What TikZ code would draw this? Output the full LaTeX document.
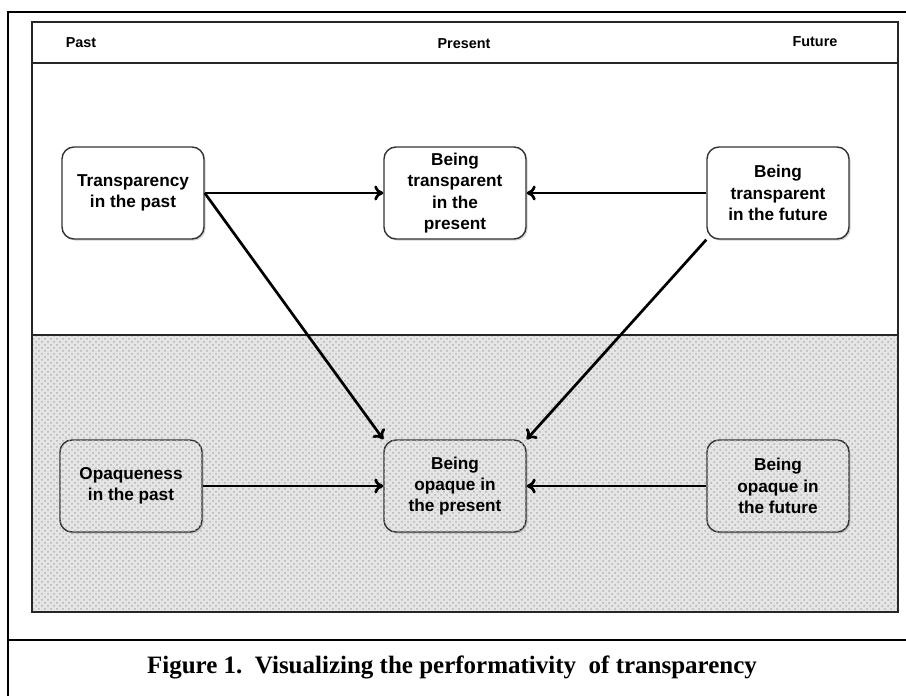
\documentclass[tikz,border=0pt]{standalone}
\usepackage{fontspec}
\setmainfont{Liberation Serif}
\setsansfont{Liberation Sans}
\usetikzlibrary{arrows.meta,positioning,shadows,patterns}

\begin{document}
\begin{tikzpicture}[x=0.5pt, y=-0.5pt,
    box/.style={draw=black!80, line width=0.7pt, rounded corners=6pt,
      minimum width=71pt, minimum height=46pt, inner sep=1pt, align=center,
      font=\sffamily\bfseries\fontsize{8.6}{10.6}\selectfont, fill=white,
      drop shadow={shadow xshift=0.8pt, shadow yshift=-0.8pt, opacity=0.35}},
    shaded/.style={fill=gray!20, postaction={pattern=crosshatch dots, pattern color=gray!60}},
    opaquebox/.style={box, shaded},
    era/.style={font=\sffamily\bfseries\fontsize{7.2}{9}\selectfont},
    flow/.style={-{To[length=4.5pt,width=7.5pt]}, line width=1.35pt}]
  \useasboundingbox (0,0) rectangle (906,696);
  % outer frame and caption rule
  \draw[line width=0.9pt] (8,696) -- (8,12) -- (906,12);
  \draw[line width=0.9pt] (8,640) -- (906,640);
  % panel
  \fill[shaded] (32,335) rectangle (898,612);
  \draw[black!85, line width=1.1pt] (32,22) rectangle (898,612);
  \draw[black!85, line width=1.1pt] (32,63) -- (898,63);
  \draw[black!85, line width=1.1pt] (32,335) -- (898,335);
  % time headers
  \node[era] (past) at (81,43) {Past};
  \node[era] (present) at (464,44) {Present};
  \node[era] (future) at (815,42) {Future};
  % transparency row
  \node[box] (transPast) at (133,193) {Transparency\\in the past};
  \node[box] (transPres) at (455,193) {Being\\transparent\\in the\\present};
  \node[box] (transFut) at (778,193) {Being\\transparent\\in the future};
  % opaqueness row
  \node[opaquebox] (opaqPast) at (131,486) {Opaqueness\\in the past};
  \node[opaquebox] (opaqPres) at (455,486) {Being\\opaque in\\the present};
  \node[opaquebox] (opaqFut) at (778,486) {Being\\opaque in\\the future};
  % connectors
  \draw[flow] (transPast) -- (transPres);
  \draw[flow] (transFut) -- (transPres);
  \draw[flow] (transPast.east) -- (opaqPres.north west);
  \draw[flow] (transFut.south west) -- (opaqPres.north east);
  \draw[flow] (opaqPast) -- (opaqPres);
  \draw[flow] (opaqFut) -- (opaqPres);
  % caption
  \node[font=\bfseries\fontsize{12.5}{14}\selectfont] (caption) at (452,667)
    {Figure 1.\ \ Visualizing the performativity\ \ of transparency};
\end{tikzpicture}
\end{document}
